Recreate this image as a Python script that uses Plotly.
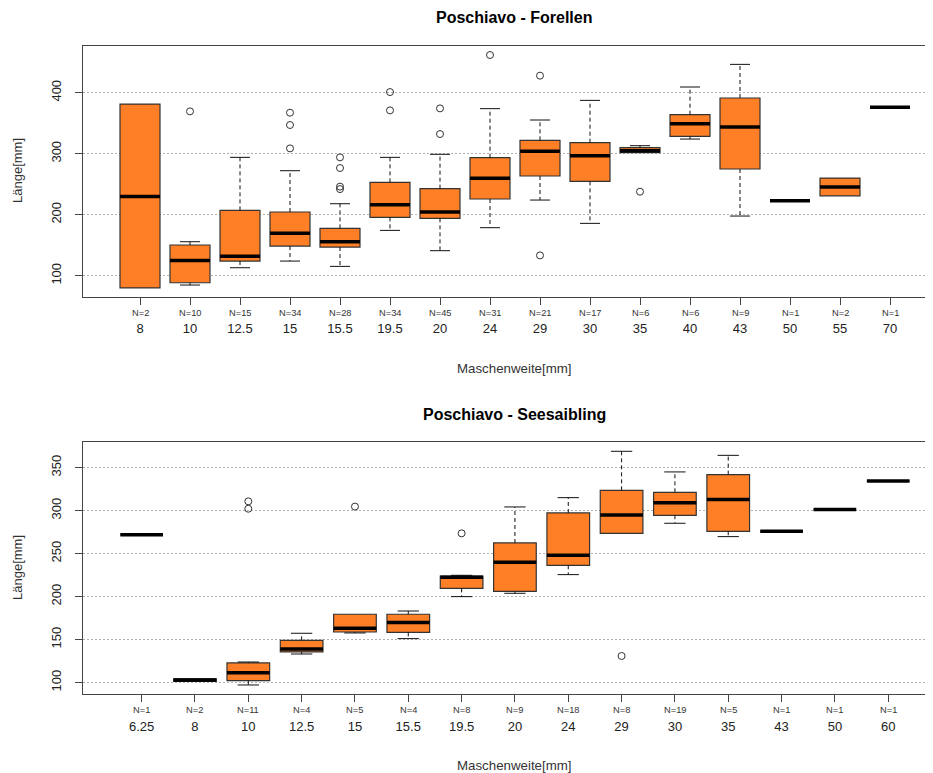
import plotly.graph_objects as go

# ---------------- data: Poschiavo - Forellen ----------------
cats_f = ["8", "10", "12.5", "15", "15.5", "19.5", "20", "24", "29", "30", "35", "40", "43", "50", "55", "70"]
n_f = [2, 10, 15, 34, 28, 34, 45, 31, 21, 17, 6, 6, 9, 1, 2, 1]
q1_f = [80, 88.5, 124, 148.6, 147, 195.6, 194, 225.7, 263.4, 254.6, 301.6, 328.4, 274.9, 223, 231, 376]
med_f = [230, 125, 131.7, 169.4, 155.7, 216.4, 204.4, 259.6, 303.8, 296.7, 304.9, 349.2, 343.7, 223, 245.4, 376]
q3_f = [381.4, 150.3, 207.1, 204.4, 177.6, 253, 242.6, 293.4, 321.9, 318, 309.8, 363.9, 391.3, 223, 260, 376]
lo_f = [80, 84.7, 113.1, 124, 115.3, 174.3, 141, 178.7, 224, 185.8, 301.6, 324, 197.8, 223, 231, 376]
hi_f = [381.4, 155.7, 294, 272.1, 218, 294, 299, 373.8, 355.2, 387.4, 313.1, 409.3, 446.4, 223, 260, 376]
out_f_cat = ["10", "15", "15", "15", "15.5", "15.5", "15.5", "15.5", "19.5", "19.5", "20", "20", "24", "29", "29", "35"]
out_f_val = [369.4, 367.2, 347, 308.7, 294, 276.5, 246, 242, 401, 371, 374.3, 332.2, 461.7, 427.9, 133.3, 237.7]

# ---------------- data: Poschiavo - Seesaibling ----------------
cats_s = ["6.25", "8", "10", "12.5", "15", "15.5", "19.5", "20", "24", "29", "30", "35", "43", "50", "60"]
n_s = [1, 2, 11, 4, 5, 4, 8, 9, 18, 8, 19, 5, 1, 1, 1]
q1_s = [272.1, 101.5, 102.3, 135.7, 158.9, 158.5, 209.7, 206.2, 236.4, 273.6, 294.6, 276, 276, 301.2, 334.5]
med_s = [272.1, 103, 111.6, 139.1, 163.2, 169.8, 222.5, 239.9, 248.1, 295, 309.3, 312.8, 276, 301.2, 334.5]
q3_s = [272.1, 104.5, 122.9, 149.2, 179.5, 179.5, 224, 262.4, 297.3, 323.6, 321.3, 341.9, 276, 301.2, 334.5]
lo_s = [272.1, 101.5, 97.3, 133.3, 157.8, 151.2, 200, 203.9, 225.6, 273.6, 285.3, 269.8, 276, 301.2, 334.5]
hi_s = [272.1, 104.5, 124, 157.4, 179.5, 183.3, 224.8, 304.3, 315.1, 369, 345, 364.3, 276, 301.2, 334.5]
out_s_cat = ["10", "10", "15", "19.5", "29"]
out_s_val = [310.8, 302.2, 304.7, 273.6, 131]

ticks_f = [100, 200, 300, 400]
ticks_s = [100, 150, 200, 250, 300, 350]

# ---------------- style ----------------
FONT = "Liberation Sans, Arial, sans-serif"
ORANGE = "#FF7F27"
BOXLINE = "#333333"
PAGE_OFF = 8          # default body margin of the html page
W = 933 - PAGE_OFF
H = 773 - PAGE_OFF
BOXW = 0.8
CAPW = 0.4


def py(pix):
    """screen pixel row -> paper y"""
    return 1 - (pix - PAGE_OFF) / H


fig = go.Figure()


def add_panel(cats, q1, med, q3, lo, hi, out_cat, out_val, xref, yref):
    xs = list(range(len(cats)))
    fig.add_trace(go.Box(
        x=xs, q1=q1, median=med, q3=q3, lowerfence=q1, upperfence=q3,
        width=BOXW, fillcolor=ORANGE, line=dict(color=BOXLINE, width=1.2),
        boxpoints=False, whiskerwidth=0, showlegend=False, hoverinfo="skip",
        xaxis=xref, yaxis=yref,
    ))
    # whiskers (dashed)
    wx, wy = [], []
    for i in xs:
        if hi[i] > q3[i]:
            wx += [i, i, None]
            wy += [q3[i], hi[i], None]
        if lo[i] < q1[i]:
            wx += [i, i, None]
            wy += [q1[i], lo[i], None]
    fig.add_trace(go.Scatter(x=wx, y=wy, mode="lines", line=dict(color="#111", width=1, dash="4px,3px"),
                             showlegend=False, hoverinfo="skip", xaxis=xref, yaxis=yref))
    # staples
    cx, cy = [], []
    for i in xs:
        if hi[i] > q3[i]:
            cx += [i - CAPW / 2, i + CAPW / 2, None]
            cy += [hi[i], hi[i], None]
        if lo[i] < q1[i]:
            cx += [i - CAPW / 2, i + CAPW / 2, None]
            cy += [lo[i], lo[i], None]
    fig.add_trace(go.Scatter(x=cx, y=cy, mode="lines", line=dict(color="#111", width=1),
                             showlegend=False, hoverinfo="skip", xaxis=xref, yaxis=yref))
    # thick medians
    mx, my = [], []
    for i in xs:
        mx += [i - BOXW / 2, i + BOXW / 2, None]
        my += [med[i], med[i], None]
    fig.add_trace(go.Scatter(x=mx, y=my, mode="lines", line=dict(color="#000", width=3.5),
                             showlegend=False, hoverinfo="skip", xaxis=xref, yaxis=yref))
    # outliers
    ox = [cats.index(c) for c in out_cat]
    fig.add_trace(go.Scatter(x=ox, y=out_val, mode="markers",
                             marker=dict(symbol="circle-open", size=7, color="#333", line=dict(width=1)),
                             showlegend=False, hoverinfo="skip", xaxis=xref, yaxis=yref))


add_panel(cats_f, q1_f, med_f, q3_f, lo_f, hi_f, out_f_cat, out_f_val, "x", "y")
add_panel(cats_s, q1_s, med_s, q3_s, lo_s, hi_s, out_s_cat, out_s_val, "x2", "y2")

axis_common = dict(showline=True, linecolor="#444", linewidth=1.2, ticks="outside", ticklen=7,
                   tickcolor="#444", tickfont=dict(family=FONT, size=13, color="#222"), zeroline=False)
grid_common = dict(showgrid=True, gridcolor="#b0b0b0", griddash="2px,2px", gridwidth=1)

fig.update_layout(
    width=W, height=H,
    margin=dict(l=83 - PAGE_OFF, r=0, t=0, b=0),
    plot_bgcolor="white", paper_bgcolor="white",
    showlegend=False,
    xaxis=dict(domain=[0, 1], anchor="y", range=[-1.14, 15.86], tickmode="array",
               tickvals=list(range(len(cats_f))), ticktext=cats_f, showgrid=False,
               mirror=True, ticklabelstandoff=13, **axis_common),
    yaxis=dict(domain=[py(296.7), py(45.7)], anchor="x", range=[65.6, 477], tickmode="array",
               tickvals=ticks_f, tickangle=-90, ticklabelstandoff=9, **grid_common, **axis_common),
    xaxis2=dict(domain=[0, 1], anchor="y2", range=[-1.1, 14.84], tickmode="array",
                tickvals=list(range(len(cats_s))), ticktext=cats_s, showgrid=False,
                mirror=True, ticklabelstandoff=13, **axis_common),
    yaxis2=dict(domain=[py(694), py(442)], anchor="x2", range=[86.8, 379.8], tickmode="array",
                tickvals=ticks_s, tickangle=-90, ticklabelstandoff=9, **grid_common, **axis_common),
)

ann = []
TX = (514 - 83) / 850
# titles
ann.append(dict(text="<b>Poschiavo - Forellen</b>", x=TX, y=py(18), xref="paper", yref="paper",
                showarrow=False, font=dict(family=FONT, size=16, color="#000"), xanchor="center", yanchor="middle"))
ann.append(dict(text="<b>Poschiavo - Seesaibling</b>", x=TX, y=py(414), xref="paper", yref="paper",
                showarrow=False, font=dict(family=FONT, size=16, color="#000"), xanchor="center", yanchor="middle"))
# x-axis titles
ann.append(dict(text="Maschenweite[mm]", x=TX, y=py(368), xref="paper", yref="paper",
                showarrow=False, font=dict(family=FONT, size=13.3, color="#333"), xanchor="center", yanchor="middle"))
ann.append(dict(text="Maschenweite[mm]", x=TX, y=py(765), xref="paper", yref="paper",
                showarrow=False, font=dict(family=FONT, size=13.3, color="#333"), xanchor="center", yanchor="middle"))
# y-axis titles
for yc in (171, 568):
    ann.append(dict(text="Länge[mm]", x=0, xshift=-66, y=py(yc), xref="paper", yref="paper", textangle=-90,
                    showarrow=False, font=dict(family=FONT, size=13, color="#333"), xanchor="center", yanchor="middle"))
# N labels
for i, n in enumerate(n_f):
    ann.append(dict(text=f"N={n}", x=i, y=py(313), xref="x", yref="paper", showarrow=False,
                    font=dict(family=FONT, size=9.3, color="#333"), xanchor="center", yanchor="middle"))
for i, n in enumerate(n_s):
    ann.append(dict(text=f"N={n}", x=i, y=py(710), xref="x2", yref="paper", showarrow=False,
                    font=dict(family=FONT, size=9.3, color="#333"), xanchor="center", yanchor="middle"))
fig.update_layout(annotations=ann)

fig.write_html("out.html")
